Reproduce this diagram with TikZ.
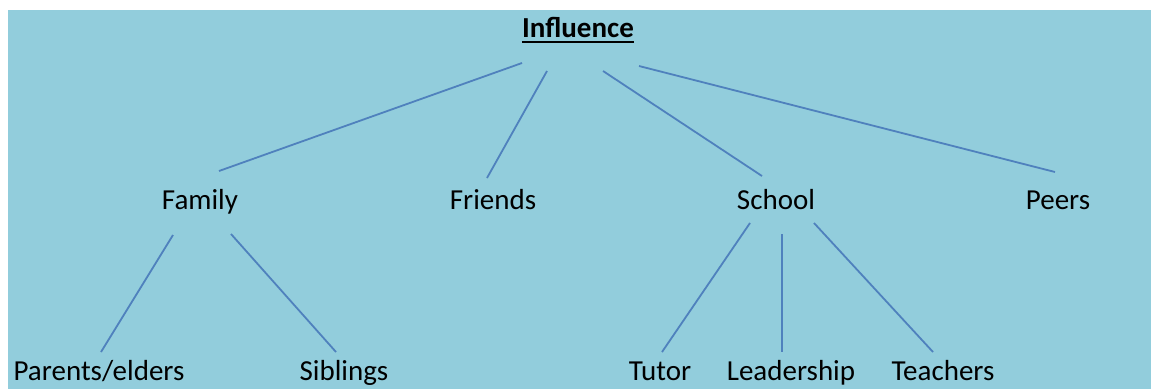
\documentclass[tikz,border=0pt]{standalone}
\usepackage{fontspec}
\setmainfont{Carlito}
\definecolor{bgblue}{HTML}{92CDDC}
\definecolor{lineblue}{HTML}{4F81BD}
\begin{document}
\begin{tikzpicture}[x=1pt,y=-1pt,
  lbl/.style={anchor=base,inner sep=0pt,font=\fontsize{29}{35}\selectfont,text=black},
  conn/.style={draw=lineblue,line width=1.8pt}]
\useasboundingbox (0,0) rectangle (1151,389);
\fill[bgblue] (8,10) rectangle (1151,389);
\node[lbl,font=\fontsize{29}{35}\selectfont\bfseries] (inf) at (578,37) {Influence};
\draw[black,line width=2.6pt] ([yshift=-4.8pt]inf.base west) -- ([yshift=-4.8pt]inf.base east);
\node[lbl] (fam) at (200,209) {Family};
\node[lbl] (fri) at (493,209) {Friends};
\node[lbl] (sch) at (776,209) {School};
\node[lbl] (pee) at (1058,209) {Peers};
\node[lbl] (par) at (99,380) {Parents/elders};
\node[lbl] (sib) at (344,380) {Siblings};
\node[lbl] (tut) at (660,380) {Tutor};
\node[lbl] (lea) at (791,380) {Leadership};
\node[lbl] (tea) at (943,380) {Teachers};
% connector end points
\coordinate (i1) at (522,63);  \coordinate (f1) at (219,171);
\coordinate (i2) at (547,71);  \coordinate (f2) at (487,178);
\coordinate (i3) at (603,71);  \coordinate (f3) at (762,176);
\coordinate (i4) at (639,66);  \coordinate (f4) at (1055,172);
\coordinate (a1) at (173,235); \coordinate (p1) at (101,352);
\coordinate (a2) at (231,234); \coordinate (s1) at (336,352);
\coordinate (b1) at (750,223); \coordinate (t1) at (662,352);
\coordinate (b2) at (782,234); \coordinate (l1) at (782,352);
\coordinate (b3) at (814,223); \coordinate (t2) at (933,352);
\draw[conn] (i1) -- (f1);
\draw[conn] (i2) -- (f2);
\draw[conn] (i3) -- (f3);
\draw[conn] (i4) -- (f4);
\draw[conn] (a1) -- (p1);
\draw[conn] (a2) -- (s1);
\draw[conn] (b1) -- (t1);
\draw[conn] (b2) -- (l1);
\draw[conn] (b3) -- (t2);
\end{tikzpicture}
\end{document}
